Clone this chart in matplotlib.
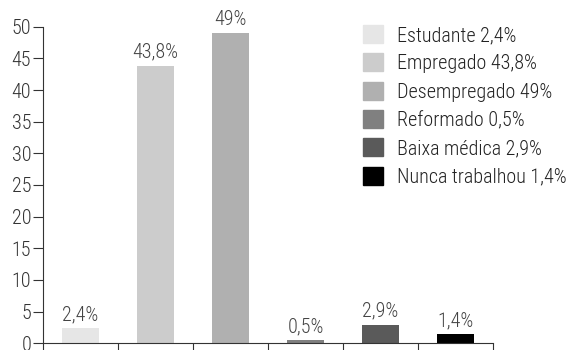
import matplotlib
matplotlib.use("Agg")
import matplotlib.pyplot as plt
import matplotlib.patches as mpatches

# situação profissional (%)
categorias = ["Estudante", "Empregado", "Desempregado", "Reformado", "Baixa médica", "Nunca trabalhou"]
valores = [2.4, 43.8, 49, 0.5, 2.9, 1.4]
rotulos = ["2,4%", "43,8%", "49%", "0,5%", "2,9%", "1,4%"]
cores = ["#e6e6e6", "#cccccc", "#b0b0b0", "#808080", "#5a5a5a", "#000000"]
yticks = list(range(0, 51, 5))

plt.rcParams["font.family"] = ["Roboto Condensed", "DejaVu Sans"]
plt.rcParams["font.weight"] = 300
fs = 14.5

fig = plt.figure(figsize=(5.68, 3.5), dpi=100)
ax = fig.add_axes([43 / 568, 6.7 / 350, 450 / 568, 316.6 / 350])

x = range(len(valores))
ax.bar(x, valores, width=0.5, color=cores)
for xi, v, r in zip(x, valores, rotulos):
    ax.annotate(r, (xi, v), xytext=(0, 3), textcoords="offset points",
                ha="center", va="bottom", fontsize=fs, color="#444444")

ax.set_xlim(-0.5, len(valores) - 0.5)
ax.set_ylim(0, 50)
ax.set_yticks(yticks)
ax.set_xticks([i - 0.5 for i in range(len(valores) + 1)])
ax.set_xticklabels([])
ax.tick_params(axis="x", direction="out", length=7, width=0.8, color="#333333")
ax.tick_params(axis="y", direction="out", length=7, width=0.8, color="#333333",
               labelsize=fs, labelcolor="#333333", pad=1.5)
for s in ["top", "right"]:
    ax.spines[s].set_visible(False)
for s in ["left", "bottom"]:
    ax.spines[s].set_color("#333333")
    ax.spines[s].set_linewidth(0.8)

patches = [mpatches.Patch(color=c, label=f"{n} {r}") for c, n, r in zip(cores, categorias, rotulos)]
leg = fig.legend(handles=patches, loc="upper left", bbox_to_anchor=(363 / 568, 1 - 25 / 350),
                 frameon=False, fontsize=fs, handlelength=1.0, handleheight=1.0,
                 handletextpad=0.7, labelspacing=0.42, borderaxespad=0, borderpad=0)
for t in leg.get_texts():
    t.set_color("#222222")

fig.savefig("out.png", dpi=100)
